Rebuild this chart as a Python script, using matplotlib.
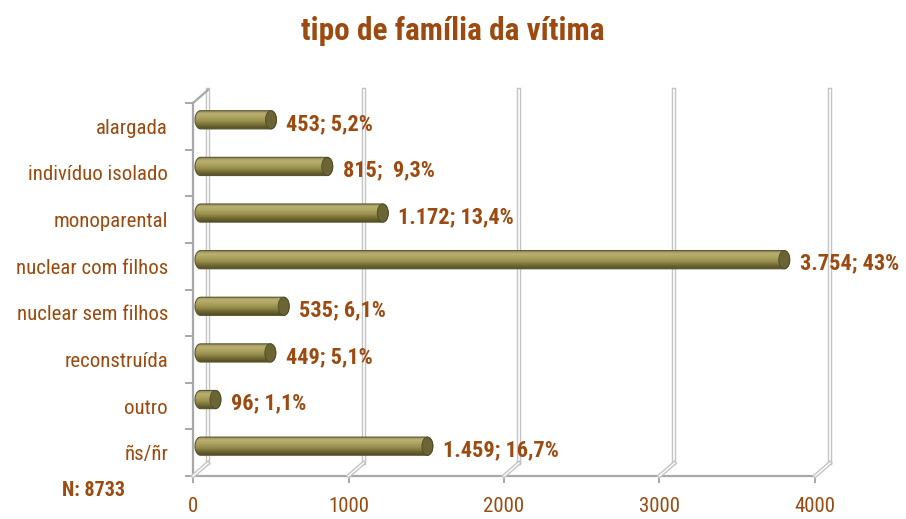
import matplotlib
matplotlib.use("Agg")
import matplotlib.pyplot as plt
import matplotlib.transforms as mtransforms
from matplotlib import font_manager as fm
from matplotlib.path import Path
from matplotlib.patches import PathPatch, Ellipse
from matplotlib.colors import LinearSegmentedColormap
import numpy as np

# dados
categorias = ["alargada", "indivíduo isolado", "monoparental", "nuclear com filhos",
              "nuclear sem filhos", "reconstruída", "outro", "ñs/ñr"]
valores = [453, 815, 1172, 3754, 535, 449, 96, 1459]
rotulos = ["453; 5,2%", "815;  9,3%", "1.172; 13,4%", "3.754; 43%",
           "535; 6,1%", "449; 5,1%", "96; 1,1%", "1.459; 16,7%"]
xticks = [0, 1000, 2000, 3000, 4000]
titulo = "tipo de família da vítima"
nota = "N: 8733"

castanho = "#9c4a10"
cinza = "#a8a8a8"

nomes = {f.name for f in fm.fontManager.ttflist}
fonte = "DejaVu Sans"
for cand in ["Roboto Condensed", "Liberation Sans Narrow", "Open Sans Condensed", "Noto Sans Condensed"]:
    if cand in nomes:
        fonte = cand
        break
plt.rcParams['font.family'] = [fonte, 'DejaVu Sans']
plt.rcParams['font.stretch'] = 'condensed'

fig = plt.figure(figsize=(9.06, 5.19), dpi=100)
W, H = 906, 519
ax = fig.add_axes([193 / W, 43 / H, 622 / W, 373 / H])
ax.set_xlim(0, 4000)
ax.set_ylim(8, 0)
ax.set_facecolor("none")
for s in ax.spines.values():
    s.set_visible(False)

def desloc(dx, dy):
    return ax.transData + mtransforms.ScaledTranslation(dx / 100, dy / 100, fig.dpi_scale_trans)

fundo = desloc(15, 13)
meio = desloc(7.5, 6.5)
inv = fig.transFigure.inverted()

# grelha do fundo (linhas duplas)
for x in xticks:
    ax.plot([x, x], [8, 0], color="#c4c4c4", lw=3.2, transform=fundo, clip_on=False, zorder=1)
    ax.plot([x, x], [8, 0], color="white", lw=1.2, transform=fundo, clip_on=False, zorder=1)
    # diagonais do chao
    p0 = inv.transform(ax.transData.transform((x, 8)))
    p1 = inv.transform(fundo.transform((x, 8)))
    fig.add_artist(plt.Line2D([p0[0], p1[0]], [p0[1], p1[1]], color="#c4c4c4", lw=3.0, zorder=1))
    fig.add_artist(plt.Line2D([p0[0], p1[0]], [p0[1], p1[1]], color="white", lw=1.0, zorder=1))

# parede esquerda e base
ax.plot([0, 4000], [8, 8], color=cinza, lw=1.6, clip_on=False, zorder=2)
ax.plot([0, 0], [8, 0], color=cinza, lw=1.6, clip_on=False, zorder=2)
q0 = inv.transform(ax.transData.transform((0, 0)))
q1 = inv.transform(fundo.transform((0, 0)))
fig.add_artist(plt.Line2D([q0[0], q1[0]], [q0[1], q1[1]], color=cinza, lw=1.6, zorder=2))

# barras cilindricas
cmap = LinearSegmentedColormap.from_list(
    "oliva", ["#8e8752", "#bab073", "#ada260", "#978d4c", "#726a35", "#524b22"])
grad = np.linspace(0, 1, 64).reshape(-1, 1)
alt = 0.39
px_x = 4000 / 622.0
r = 5.5 * px_x
for i, v in enumerate(valores):
    yc = i + 0.5
    y0, y1 = yc - alt / 2, yc + alt / 2
    t = np.linspace(np.pi / 2, 3 * np.pi / 2, 20)
    esq = np.column_stack([0 + r * np.cos(t), yc - (alt / 2) * np.sin(t)])
    t2 = np.linspace(-np.pi / 2, np.pi / 2, 20)
    dir_ = np.column_stack([v + r * np.cos(t2), yc - (alt / 2) * np.sin(t2)])
    verts = np.vstack([esq, dir_, esq[:1]])
    pp = PathPatch(Path(verts), facecolor="none", edgecolor="#5a5530", lw=0.8,
                   transform=meio, zorder=4)
    ax.add_patch(pp)
    im = ax.imshow(grad, cmap=cmap, aspect="auto", extent=(-r, v + r, y1, y0),
                   transform=meio, zorder=3, interpolation="bilinear")
    im.set_clip_path(pp)
    tampa = Ellipse((v, yc), 2 * r, alt, facecolor="#6b6434", edgecolor="#4f4a25",
                    lw=0.6, transform=meio, zorder=5)
    ax.add_patch(tampa)
    ax.text(v, yc, rotulos[i], transform=desloc(7.5 + r / px_x + 10, 2.5),
            ha="left", va="center", color=castanho, fontsize=16, fontweight="bold", zorder=6)

# eixos
ax.set_yticks(np.arange(0, 9))
ax.set_yticklabels([])
ax.set_yticks(np.arange(8) + 0.5, minor=True)
ax.set_yticklabels(categorias, minor=True)
ax.tick_params(axis="y", which="major", length=6, color=cinza, width=1.4, direction="out")
ax.tick_params(axis="y", which="minor", length=0, pad=18, labelsize=15, labelcolor=castanho)
ax.set_xticks(xticks)
ax.set_xticklabels([str(x) for x in xticks])
ax.tick_params(axis="x", length=5, color=cinza, width=1.4, pad=10, labelsize=15, labelcolor=castanho)

fig.text(453 / W, 1 - 31 / H, titulo, ha="center", va="center", color=castanho,
         fontsize=22.5, fontweight="bold")
fig.text(62 / W, 1 - 491 / H, nota, ha="left", va="center", color=castanho,
         fontsize=14.5, fontweight="bold")

fig.savefig("out.png", dpi=100)
